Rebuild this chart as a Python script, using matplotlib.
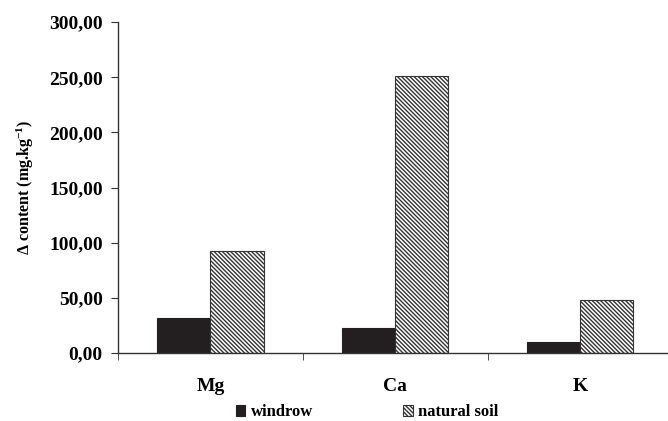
import numpy as np
import matplotlib.pyplot as plt

# Data
elements = ['Mg', 'Ca', 'K']
windrow = [31.7, 22.4, 9.7]
natural_soil = [92.4, 251.0, 48.0]
y_ticks = [0, 50, 100, 150, 200, 250, 300]

plt.rcParams['font.family'] = ['Liberation Serif', 'DejaVu Serif']
plt.rcParams['font.weight'] = 'bold'
plt.rcParams['mathtext.fontset'] = 'custom'
plt.rcParams['mathtext.rm'] = 'Liberation Serif:bold'
plt.rcParams['mathtext.bf'] = 'Liberation Serif:bold'
plt.rcParams['mathtext.default'] = 'bf'
plt.rcParams['hatch.linewidth'] = 1.0
plt.rcParams['hatch.color'] = '#3a3a3a'

fig = plt.figure(figsize=(6.68, 4.21), dpi=100)
ax = fig.add_axes([0.1766, 0.1615, 0.83, 0.786])

x = np.arange(len(elements))
w = 0.288
ax.bar(x - w / 2, windrow, w, color='#231f20', edgecolor='#231f20',
       linewidth=0.8, label='windrow')
ax.bar(x + w / 2, natural_soil, w, color='white', edgecolor='#333333',
       hatch='\\' * 8, linewidth=0.8, label='natural soil')

ax.set_xlim(-0.5, 2.5)
ax.set_ylim(0, 300)
ax.set_yticks(y_ticks)
ax.set_yticklabels([f'{v:.2f}'.replace('.', ',') for v in y_ticks],
                   fontsize=14, fontweight='bold')
ax.set_xticks(x)
ax.set_xticklabels(elements, fontsize=14, fontweight='bold')
ax.set_xticks([-0.5, 0.5, 1.5, 2.5], minor=True)
ax.tick_params(axis='x', which='major', length=0, pad=18)
ax.tick_params(axis='x', which='minor', length=5, direction='out', color='#333333')
ax.tick_params(axis='y', length=5, direction='out', color='#333333', pad=6)

for s in ['top', 'right']:
    ax.spines[s].set_visible(False)
for s in ['left', 'bottom']:
    ax.spines[s].set_color('#333333')
    ax.spines[s].set_linewidth(1.0)

ax.set_ylabel('Δ content (mg.kg$^{-1}$)',
              fontsize=11.5, fontweight='bold', labelpad=9)

ax.legend(loc='upper center', bbox_to_anchor=(0.45, -0.11), ncol=2,
          frameon=False, handlelength=0.55, handleheight=0.55,
          handletextpad=0.35, columnspacing=5.4,
          prop={'weight': 'bold', 'size': 12})

fig.savefig('out.png', dpi=100)
